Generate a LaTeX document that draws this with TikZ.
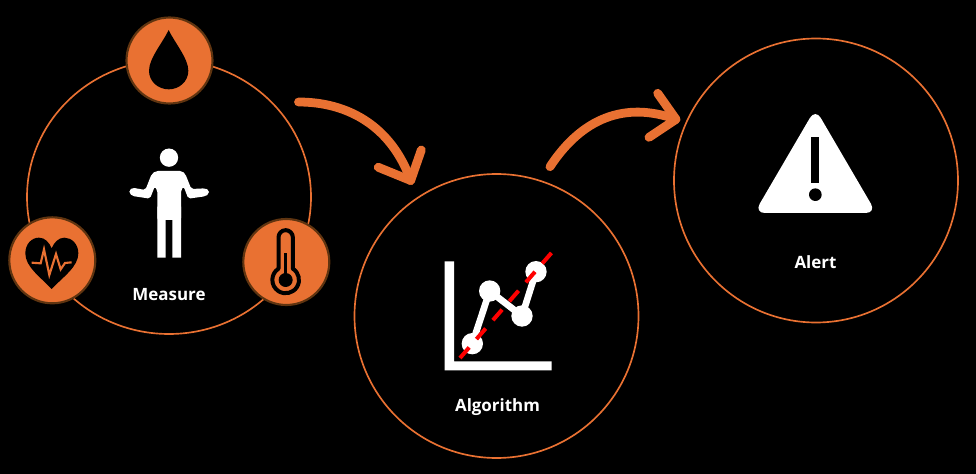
\documentclass[tikz,border=0pt]{standalone}
\usepackage{fontspec}
\usetikzlibrary{shapes.geometric}
\setmainfont{Open Sans}
\definecolor{org}{HTML}{E97132}
\definecolor{brd}{HTML}{5F3410}
\tikzset{
  ring/.style={circle,draw=org,line width=1.25pt,minimum size=213pt,inner sep=0pt},
  oval/.style={ellipse,draw=org,line width=1.25pt,minimum width=213pt,minimum height=205.5pt,inner sep=0pt},
  badge/.style={circle,fill=org,draw=brd,line width=1.6pt,minimum size=64.5pt,inner sep=0pt},
  lab/.style={text=white,font=\bfseries\fontsize{12.7}{14}\selectfont,inner sep=0pt},
  flow/.style={draw=org,line width=6.6pt,line cap=round,line join=round}
}
\begin{document}
\begin{tikzpicture}[x=0.75pt,y=-0.75pt]
\path[fill=black,use as bounding box] (0,0) rectangle (976,474);
\node[oval] (measure) at (169,197) {};
\node[ring] (algo) at (496.5,316) {};
\node[ring] (alert) at (816,180.5) {};
\node[badge] (drop) at (169.5,60.5) {};
\node[badge] (heart) at (52.3,260.3) {};
\node[badge] (thermo) at (286.3,262) {};
\node[lab] (mlab) at (169,295) {Measure};
\node[lab] (alab) at (497.5,407) {Algorithm};
\node[lab] (wlab) at (815.5,262.5) {Alert};
% flow arrows
\coordinate (a1s) at (298.5,102);
\coordinate (a1t) at (410.7,180.5);
\coordinate (a2s) at (550,166.7);
\coordinate (a2t) at (676,119.3);
\draw[flow] (a1s) .. controls (350,102) and (392,128) .. (a1t);
\draw[flow] (378.3,167.3) -- (a1t) -- (421.3,150);
\draw[flow] (a2s) .. controls (582,118) and (625,101) .. (a2t);
\draw[flow] (657.7,93.3) -- (a2t) -- (649,137.3);
% icons in 3x zoom units
\begin{scope}[x=0.25pt,y=-0.25pt]
\fill[white] (507,473) circle[radius=27.5*0.25pt];
\fill[white,rounded corners=1.5pt] (468,513) -- (546,513) -- (556,522) -- (574,567) -- (615,565) -- (627,570) -- (627,582) -- (615,589) -- (565,596) -- (551,560) -- (543,570) -- (543,660) -- (472,660) -- (472,570) -- (464,560) -- (450,596) -- (397,588) -- (388,580) -- (388,570) -- (397,563) -- (436,570) -- (455,522) -- cycle;
\fill[white] (472,640) rectangle (497,773) (517,640) rectangle (543,773) (472,620) rectangle (543,640);
% drop
\fill[black] (506,90) .. controls (490,125) and (447,175) .. (447,212) .. controls (447,245) and (475,268) .. (506,268) .. controls (537,268) and (565,245) .. (565,212) .. controls (565,175) and (522,125) .. (506,90) -- cycle;
% heart
\fill[black] (155,867) .. controls (120,830) and (76,800) .. (76,760) .. controls (76,732) and (95,713) .. (117,713) .. controls (135,713) and (148,728) .. (155,745) .. controls (162,728) and (175,713) .. (193,713) .. controls (215,713) and (235,732) .. (235,760) .. controls (235,800) and (190,830) .. (155,867) -- cycle;
\draw[org,line width=1.6pt,line join=miter] (95,788) -- (122,790) -- (132,748) -- (148,825) -- (168,762) -- (182,808) -- (195,789) -- (215,787);
% thermometer
\draw[black,line width=3pt,line join=round] (878.5,712) -- (878.5,806) arc[start angle=57.5,end angle=-237.5,radius=40*0.25pt] -- (835.5,712) arc[start angle=180,end angle=0,radius=21.5*0.25pt] -- cycle;
\fill[black] (853,760) rectangle (862,830);
\fill[black] (857,840) circle[radius=21*0.25pt];
\end{scope}
\begin{scope}[shift={(420,230)},x=0.25pt,y=-0.25pt]
\fill[white] (74,94) rectangle (102,394) (74,394) rectangle (395,421);
\draw[white,line width=5pt] (157,341) -- (209,183) -- (306,258) -- (348,125);
\fill[white] (157,341) circle[radius=32*0.25pt] (209,183) circle[radius=32*0.25pt] (306,258) circle[radius=32*0.25pt] (348,125) circle[radius=32*0.25pt];
\draw[red,line width=3pt,dash pattern=on 10.5pt off 8.3pt] (120,384) -- (402,60);
\end{scope}
\begin{scope}[shift={(740,100)},x=0.25pt,y=-0.25pt]
\fill[white,rounded corners=8pt] (226,26) -- (409,339) -- (43,339) -- cycle;
\fill[black] (214,112) rectangle (238,249);
\fill[black] (226,284) circle[radius=19*0.25pt];
\end{scope}
\end{tikzpicture}
\end{document}
